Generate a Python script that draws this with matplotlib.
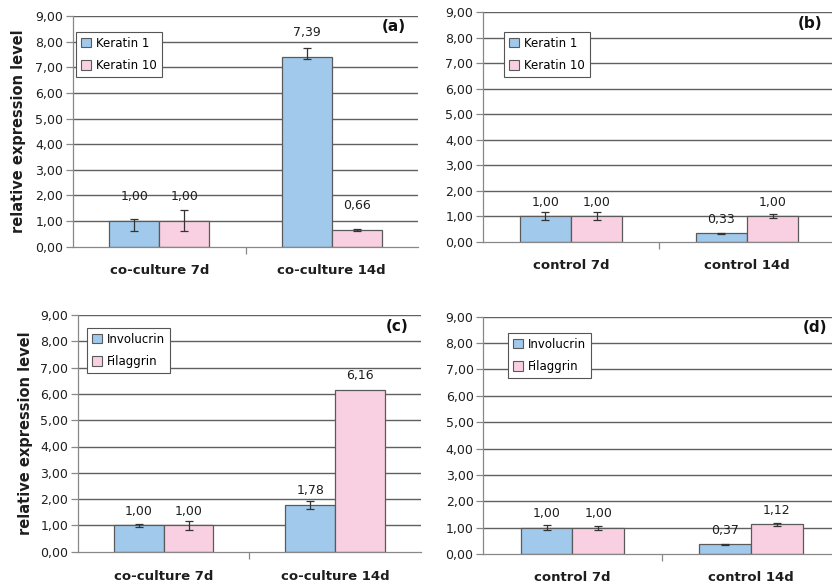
import matplotlib
matplotlib.use("Agg")
import matplotlib.pyplot as plt
import numpy as np
from matplotlib.patches import Patch

plt.rcParams['font.family'] = ['DejaVu Sans']

# ---- data ----
cats_a = ["co-culture 7d", "co-culture 14d"]
cats_b = ["control 7d", "control 14d"]
legend_ab = ["Keratin 1", "Keratin 10"]
legend_cd = ["Involucrin", "Filaggrin"]

a_s1 = [1.00, 7.39]
a_s2 = [1.00, 0.66]
a_s1_lo = [0.39, 0.08]
a_s1_hi = [0.10, 0.37]
a_s2_lo = [0.39, 0.03]
a_s2_hi = [0.42, 0.05]

b_s1 = [1.00, 0.33]
b_s2 = [1.00, 1.00]
b_s1_err = [0.15, 0.02]
b_s2_err = [0.15, 0.08]

c_s1 = [1.00, 1.78]
c_s2 = [1.00, 6.16]
c_s1_err = [0.05, 0.16]
c_s2_err = [0.18, 0.0]

d_s1 = [1.00, 0.37]
d_s2 = [1.00, 1.12]
d_s1_err = [0.09, 0.02]
d_s2_err = [0.08, 0.05]

yticks = [0, 1, 2, 3, 4, 5, 6, 7, 8, 9]
ytick_labels = ["0,00", "1,00", "2,00", "3,00", "4,00", "5,00", "6,00", "7,00", "8,00", "9,00"]
ylabel = "relative expression level"
panel_tags = ["(a)", "(b)", "(c)", "(d)"]

BLUE = "#A0C9EB"
PINK = "#F9D0E2"
EDGE = "#5a5a5a"
GRID = "#606060"
TXT = "#1e1e1e"

W, H = 832, 585
fig = plt.figure(figsize=(W / 100, H / 100), dpi=100)

def rect(l, r, t, b):
    return [l / W, 1 - b / H, (r - l) / W, (b - t) / H]

axes_rects = [
    rect(73, 418, 16, 246.7),
    rect(483, 835, 12.3, 241.7),
    rect(78, 420.7, 315, 551.7),
    rect(483.3, 840, 316.7, 554),
]
legend_pos = [(76, 32), (504, 32), (87, 328), (508, 333)]
label_offsets = [17.5, 10, 10, 10]   # points above bar top (label centre)
xlabel_pads = [12.5, 12.5, 13, 12.5]
ylabel_pads = [7, 0, 5, 0]

panels = [
    (cats_a, a_s1, a_s2, [a_s1_lo, a_s1_hi], [a_s2_lo, a_s2_hi], legend_ab, True),
    (cats_b, b_s1, b_s2, [b_s1_err, b_s1_err], [b_s2_err, b_s2_err], legend_ab, False),
    (cats_a, c_s1, c_s2, [c_s1_err, c_s1_err], [c_s2_err, c_s2_err], legend_cd, True),
    (cats_b, d_s1, d_s2, [d_s1_err, d_s1_err], [d_s2_err, d_s2_err], legend_cd, False),
]

bw = 0.29
for i, (cats, s1, s2, e1, e2, leg, show_ylabel) in enumerate(panels):
    ax = fig.add_axes(axes_rects[i])
    x = np.arange(len(cats))
    ax.set_axisbelow(True)
    for yv in yticks[1:]:
        ax.axhline(yv, color=GRID, lw=1.0, zorder=0)
    ax.bar(x - bw / 2, s1, bw, color=BLUE, edgecolor=EDGE, linewidth=0.9, zorder=2)
    ax.bar(x + bw / 2, s2, bw, color=PINK, edgecolor=EDGE, linewidth=0.9, zorder=2)
    for xs, vals, err in [(x - bw / 2, s1, e1), (x + bw / 2, s2, e2)]:
        lo = np.array(err[0]); hi = np.array(err[1])
        mask = (lo + hi) > 0
        ax.errorbar(np.array(xs)[mask], np.array(vals)[mask],
                    yerr=[lo[mask], hi[mask]], fmt='none', ecolor='#333333',
                    elinewidth=0.9, capsize=3, capthick=0.9, zorder=3)
        for xv, v in zip(xs, vals):
            ax.annotate(f"{v:.2f}".replace('.', ','), (xv, v),
                        xytext=(0, label_offsets[i]),
                        textcoords='offset points', ha='center', va='center',
                        fontsize=9, color=TXT)
    ax.set_xlim(-0.5, len(cats) - 0.5)
    ax.set_ylim(0, 9)
    ax.set_yticks(yticks)
    ax.set_yticklabels(ytick_labels, fontsize=9, color=TXT)
    ax.tick_params(axis='y', length=5, color='#888888', width=0.9, pad=2)
    ax.set_xticks(x)
    ax.set_xticklabels(cats, fontsize=9.5, fontweight='bold', color=TXT)
    ax.tick_params(axis='x', length=0, pad=xlabel_pads[i])
    ax.set_xticks([0.5], minor=True)
    ax.tick_params(axis='x', which='minor', length=5, color='#888888', width=0.9)
    for s in ['top', 'right']:
        ax.spines[s].set_visible(False)
    for s in ['left', 'bottom']:
        ax.spines[s].set_color('#888888')
        ax.spines[s].set_linewidth(0.9)
    if show_ylabel:
        ax.set_ylabel(ylabel, fontsize=10.5, fontweight='bold', color=TXT,
                      labelpad=ylabel_pads[i])
    ax.text(0.965, 0.985, panel_tags[i], transform=ax.transAxes, ha='right', va='top',
            fontsize=11, fontweight='bold', color='#111111')
    handles = [Patch(facecolor=BLUE, edgecolor=EDGE, linewidth=0.8),
               Patch(facecolor=PINK, edgecolor=EDGE, linewidth=0.8)]
    lx, ly = legend_pos[i]
    lg = ax.legend(handles, leg, loc='upper left',
                   bbox_to_anchor=(lx / W, 1 - ly / H), bbox_transform=fig.transFigure,
                   fontsize=8.5, frameon=True, fancybox=False, framealpha=1,
                   edgecolor='#555555', handlelength=0.85, handleheight=0.85,
                   handletextpad=0.45, borderpad=0.4, labelspacing=0.8,
                   borderaxespad=0)
    lg.get_frame().set_linewidth(0.8)
    lg.set_zorder(5)

fig.savefig("out.png", dpi=100)
